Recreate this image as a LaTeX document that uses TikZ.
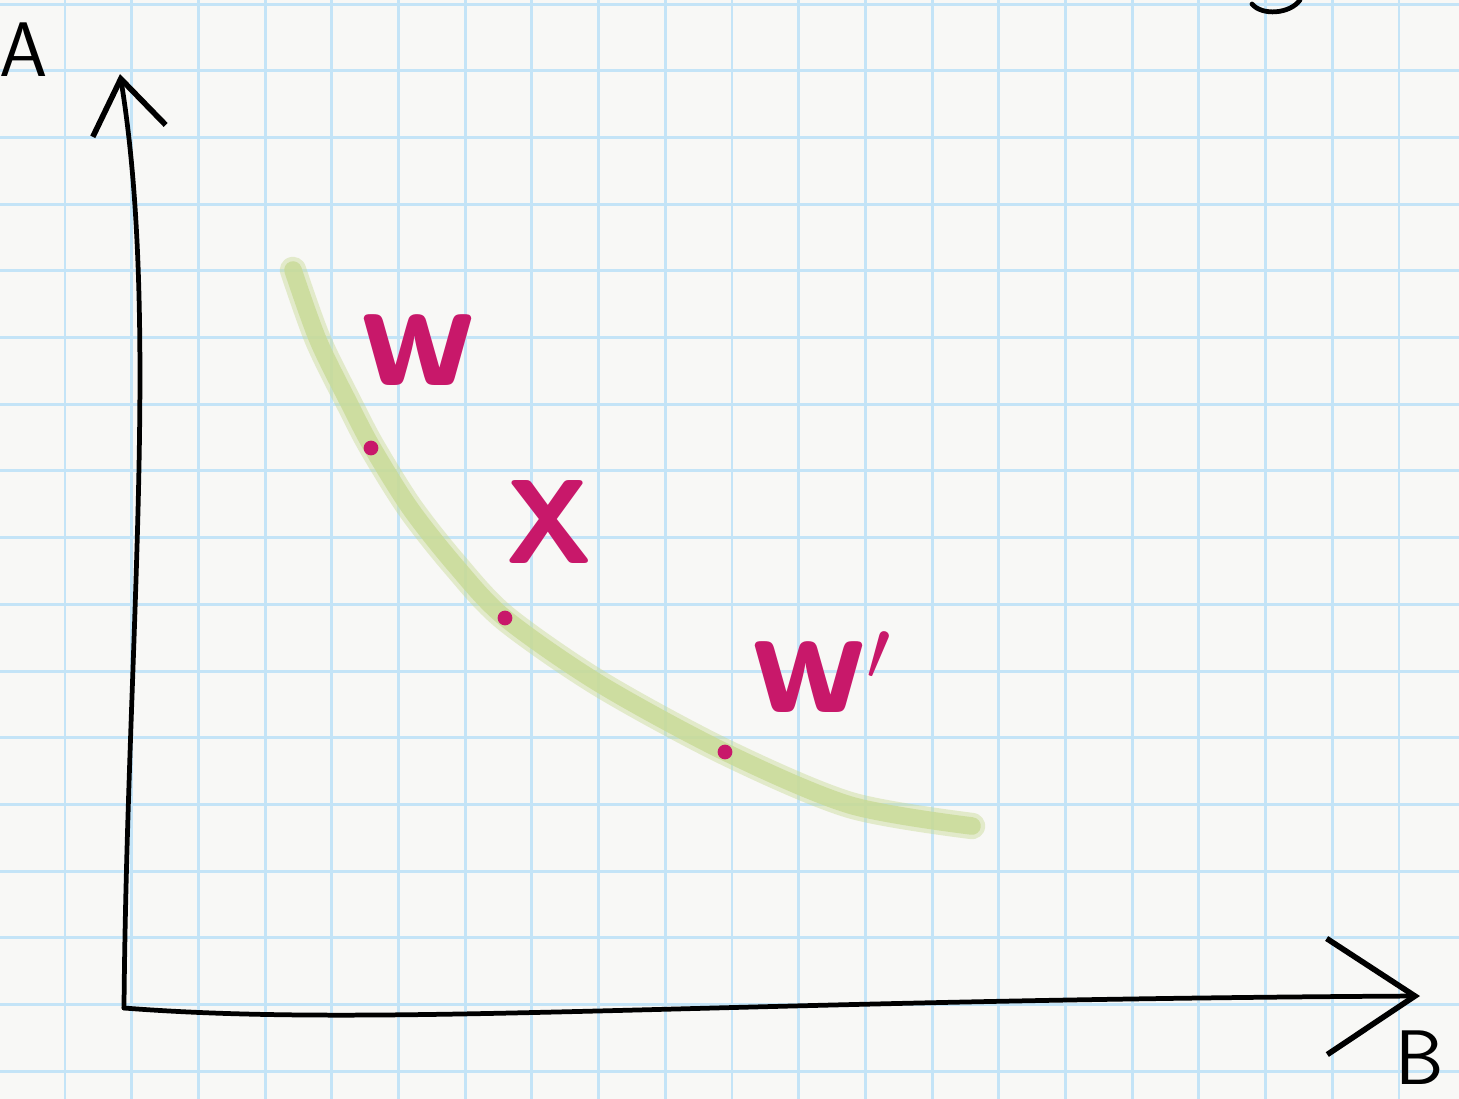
\documentclass[tikz,border=0pt]{standalone}
\usepackage{tikz}
\usetikzlibrary{arrows.meta}
\definecolor{paper}{RGB}{248,248,246}
\definecolor{gridblue}{RGB}{196,228,247}
\definecolor{frontgreen}{RGB}{200,218,150}
\definecolor{markpink}{RGB}{200,24,106}

\begin{document}
\begin{tikzpicture}[
  x=0.01cm, y=-0.01cm,
  gridline/.style={draw=gridblue, line width=0.85pt},
  axis/.style={draw=black, line width=1.35pt, line cap=round},
  front/.style={draw=frontgreen, line cap=round, line join=round},
  dot/.style={circle, fill=markpink, inner sep=0pt, minimum size=4.2pt},
  pinklbl/.style={font=\fontsize{44}{48}\selectfont\sffamily\bfseries, text=markpink, inner sep=0pt},
  axlbl/.style={font=\fontsize{22}{26}\selectfont\sffamily, text=black, inner sep=0pt}
]

% paper
\fill[paper] (0,0) rectangle (1459,1099);
\useasboundingbox (0,0) rectangle (1459,1099);
\foreach \k in {0,...,20}
  \draw[gridline] (65+66.7*\k,0) -- (65+66.7*\k,1099);
\foreach \k in {0,...,16}
  \draw[gridline] (0,4+66.7*\k) -- (1459,4+66.7*\k);

% front
\draw[front, line width=7.5pt, opacity=0.45] plot[smooth] coordinates
  {(293,270) (318,340) (350,405) (372,447) (410,508) (455,565) (505,618)
   (600,684) (725,752) (850,805) (972,826)};
\draw[front, line width=5pt, opacity=0.8] plot[smooth] coordinates
  {(293,270) (318,340) (350,405) (372,447) (410,508) (455,565) (505,618)
   (600,684) (725,752) (850,805) (972,826)};

% points
\node[dot] (p1) at (371,448) {};
\node[dot] (p2) at (505,618) {};
\node[dot] (p3) at (725,752) {};
\node[pinklbl] (w1) at (418,350) {w};
\node[pinklbl, font=\fontsize{34}{38}\selectfont\sffamily\bfseries] (x0) at (549,522) {X};
\node[pinklbl] (w2) at (822,672) {w$'$};

% axes
\coordinate (origin) at (124,1008);
\coordinate (ytip) at (120,74);
\coordinate (xtip) at (1420,996);
\draw[axis, -{Straight Barb[length=15pt, width=21pt, line width=1.6pt]}]
  (origin) .. controls (127,650) and (160,320) .. (ytip);
\draw[axis, -{Straight Barb[length=25pt, width=33pt, line width=1.6pt]}]
  (origin) .. controls (380,1028) and (700,1000) .. (xtip);
\node[axlbl] (alab) at (24,50) {A};
\node[axlbl] (blab) at (1420,1058) {B};

% cut-off glyph
\draw[axis] (1252,4) .. controls (1262,16) and (1290,14) .. (1300,0);

\end{tikzpicture}
\end{document}
